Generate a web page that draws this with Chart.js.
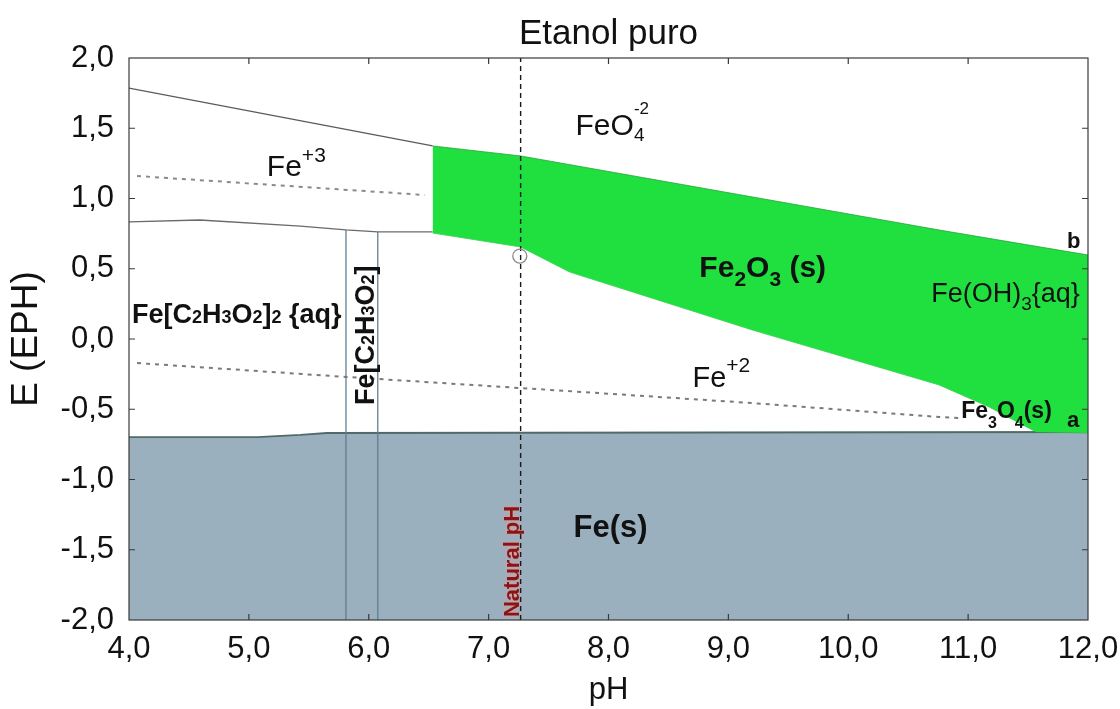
<!DOCTYPE html>
<html>
<head>
<meta charset="utf-8">
<title>Etanol puro</title>
<script src="https://cdn.jsdelivr.net/npm/chart.js@4/dist/chart.umd.min.js"></script>
<style>
  html, body { margin: 0; padding: 0; background: #fff; }
  #wrap { width: 1120px; height: 709px; }
</style>
</head>
<body>
<div id="wrap"><canvas id="pourbaix" width="1120" height="709"></canvas></div>
<script>
// Pourbaix diagram: Fe in pure ethanol (E vs pH)

// ------------------------------
// axis ticks
const pHTicks = [4, 5, 6, 7, 8, 9, 10, 11, 12];
const eTicks  = [-2, -1.5, -1, -0.5, 0, 0.5, 1, 1.5, 2];

// ------------------------------
// region boundaries, as (pH, E) pairs
const feSolidPH = [4.0, 5.07, 5.43, 5.65, 12.0];          // top of Fe(s) domain
const feSolidE  = [-0.698, -0.698, -0.683, -0.669, -0.662];

const hemTopPH = [6.533, 7.267, 10.758, 12.0];              // Fe2O3 upper edge
const hemTopE  = [1.374, 1.303, 0.776, 0.598];
const hemBotPH = [6.533, 7.267, 7.675, 9.2, 10.758, 11.175, 11.567, 12.0];
const hemBotE  = [0.754, 0.655, 0.477, 0.064, -0.327, -0.484, -0.662, -0.669];

const ferratePH = [4.0, 6.533];                              // Fe+3 / FeO4-2
const ferrateE  = [1.786, 1.374];

const fe3fe2PH = [4.0, 4.59, 5.43, 5.81, 6.075, 6.533];      // Fe+3 / Fe+2
const fe3fe2E  = [0.833, 0.847, 0.804, 0.776, 0.762, 0.762];

const acetatePH  = [5.81, 6.075];                            // acetate complex borders
const acetateTop = [0.776, 0.762];

const fe3DashPH = [4.067, 6.467];                            // dotted guide lines
const fe3DashE  = [1.160, 1.025];
const fe2DashPH = [4.067, 5.81, 7.267, 9.2, 10.758, 10.925];
const fe2DashE  = [-0.171, -0.270, -0.349, -0.456, -0.555, -0.562];

const naturalPH = 7.267;
const markerPH = [7.26];
const markerE  = [0.59];

// ------------------------------
const FONT = '"Liberation Sans", Arial, Helvetica, sans-serif';
const GREEN = 'rgb(32,224,64)';
const STEEL = 'rgb(155,176,191)';
const TITLE = 'Etanol puro';

const pts = (xs, ys) => xs.map((x, i) => ({ x, y: ys[i] }));
const fmt = v => Number(v).toFixed(1).replace('.', ',');

// text labels: anchor (pH, E) is the left end of the baseline
const labels = [
  { pH: 5.15,   E: 1.160,  parts: [{ t: 'Fe', s: 30 }, { t: '+3', s: 21, dy: -14 }] },
  { pH: 7.725,  E: 1.452,  parts: [{ t: 'FeO', s: 30 }, { t: '4', s: 19, dy: 6, stack: true }, { t: '-2', s: 17, dy: -21 }] },
  { pH: 8.758,  E: 0.441,  bold: true, parts: [{ t: 'Fe', s: 30 }, { t: '2', s: 21, dy: 9 }, { t: 'O', s: 30 }, { t: '3', s: 21, dy: 9 }, { t: ' (s)', s: 30 }] },
  { pH: 10.692, E: 0.263,  parts: [{ t: 'Fe(OH)', s: 27 }, { t: '3', s: 19, dy: 8 }, { t: '{aq}', s: 27 }] },
  { pH: 11.825, E: 0.648,  bold: true, parts: [{ t: 'b', s: 22 }] },
  { pH: 8.70,   E: -0.342, parts: [{ t: 'Fe', s: 29 }, { t: '+2', s: 21, dy: -15 }] },
  { pH: 10.942, E: -0.562, bold: true, parts: [{ t: 'Fe', s: 23 }, { t: '3', s: 16, dy: 10 }, { t: 'O', s: 23 }, { t: '4', s: 16, dy: 10 }, { t: '(s)', s: 23 }] },
  { pH: 11.825, E: -0.626, bold: true, parts: [{ t: 'a', s: 22 }] },
  { pH: 7.708,  E: -1.409, bold: true, parts: [{ t: 'Fe(s)', s: 31 }] },
  { pH: 4.025,  E: 0.114,  bold: true, parts: [{ t: 'Fe[C', s: 27 }, { t: '2', s: 18 }, { t: 'H', s: 27 }, { t: '3', s: 18 }, { t: 'O', s: 27 }, { t: '2', s: 18 }, { t: ']', s: 27 }, { t: '2', s: 18 }, { t: ' {aq}', s: 27 }] },
  { pH: 6.042,  E: -0.470, bold: true, rotate: true, parts: [{ t: 'Fe[C', s: 27 }, { t: '2', s: 18 }, { t: 'H', s: 27 }, { t: '3', s: 18 }, { t: 'O', s: 27 }, { t: '2', s: 18 }, { t: ']', s: 27 }] }
];
const naturalLabel = { pH: 7.25, E: -1.979, text: 'Natural pH', s: 22 };

function drawRich(ctx, x, y, parts, bold, color) {
  let cx = x;
  ctx.fillStyle = color;
  ctx.textBaseline = 'alphabetic';
  ctx.textAlign = 'left';
  parts.forEach(p => {
    ctx.font = `${bold ? 'bold ' : ''}${p.s}px ${FONT}`;
    ctx.fillText(p.t, cx, y + (p.dy || 0));
    if (!p.stack) cx += ctx.measureText(p.t).width;
  });
}

// title over the plot box, frame, inward ticks and region names
const decorations = {
  id: 'decorations',
  beforeDatasetDraw(chart, args) {
    if (args.meta.label !== 'natural') return;
    const { ctx } = chart;
    const px = chart.scales.x.getPixelForValue(naturalLabel.pH);
    const py = chart.scales.y.getPixelForValue(naturalLabel.E);
    ctx.save();
    ctx.translate(px, py);
    ctx.rotate(-Math.PI / 2);
    ctx.shadowColor = 'rgba(240,150,150,0.9)';
    ctx.shadowBlur = 4;
    ctx.font = `bold ${naturalLabel.s}px ${FONT}`;
    ctx.fillStyle = '#8a1414';
    ctx.textBaseline = 'alphabetic';
    ctx.fillText(naturalLabel.text, 0, 0);
    ctx.restore();
  },
  afterDatasetsDraw(chart) {
    const { ctx, chartArea: a } = chart;
    const xs = chart.scales.x, ys = chart.scales.y;
    ctx.save();

    ctx.font = `35px ${FONT}`;
    ctx.fillStyle = '#111';
    ctx.textAlign = 'center';
    ctx.textBaseline = 'middle';
    ctx.fillText(TITLE, (a.left + a.right) / 2, 34);

    labels.forEach(l => {
      const px = xs.getPixelForValue(l.pH), py = ys.getPixelForValue(l.E);
      if (l.rotate) {
        ctx.save();
        ctx.translate(px, py);
        ctx.rotate(-Math.PI / 2);
        drawRich(ctx, 0, 0, l.parts, l.bold, '#111');
        ctx.restore();
      } else {
        drawRich(ctx, px, py, l.parts, l.bold, '#111');
      }
    });

    ctx.strokeStyle = '#3a3a3a';
    ctx.lineWidth = 1.2;
    ctx.strokeRect(a.left, a.top, a.right - a.left, a.bottom - a.top);

    const tick = 6;
    ctx.beginPath();
    pHTicks.slice(1, -1).forEach(v => {
      const x = xs.getPixelForValue(v);
      ctx.moveTo(x, a.bottom); ctx.lineTo(x, a.bottom - tick);
      ctx.moveTo(x, a.top);    ctx.lineTo(x, a.top + tick);
    });
    eTicks.slice(1, -1).forEach(v => {
      const y = ys.getPixelForValue(v);
      ctx.moveTo(a.left, y);  ctx.lineTo(a.left + tick, y);
      ctx.moveTo(a.right, y); ctx.lineTo(a.right - tick, y);
    });
    ctx.stroke();
    ctx.restore();
  }
};

const chart = new Chart(document.getElementById('pourbaix'), {
  type: 'line',
  data: {
    datasets: [
      { label: 'marker', type: 'scatter', data: pts(markerPH, markerE), order: 0, showLine: false,
        pointRadius: 7, pointBorderColor: '#8a8a8a', pointBackgroundColor: 'rgba(0,0,0,0)', pointBorderWidth: 1.3 },
      { label: 'natural', data: [{ x: naturalPH, y: -2 }, { x: naturalPH, y: 2 }], order: 1,
        borderColor: '#1a1a1a', borderWidth: 1.4, borderDash: [5, 4] },
      { label: 'Fe+3 guide', data: pts(fe3DashPH, fe3DashE), order: 3,
        borderColor: '#8a8a8a', borderWidth: 2, borderDash: [4, 5] },
      { label: 'Fe+2 guide', data: pts(fe2DashPH, fe2DashE), order: 3,
        borderColor: '#7a7a7a', borderWidth: 2, borderDash: [4, 5] },
      { label: 'ferrate', data: pts(ferratePH, ferrateE), order: 4, borderColor: '#5a5a5a', borderWidth: 1.3 },
      { label: 'fe3fe2', data: pts(fe3fe2PH, fe3fe2E), order: 4, borderColor: '#6a6a6a', borderWidth: 1.3 },
      { label: 'acetate A', data: [{ x: acetatePH[0], y: acetateTop[0] }, { x: acetatePH[0], y: -2 }], order: 4,
        borderColor: 'rgba(95,125,145,0.85)', borderWidth: 1.5 },
      { label: 'acetate B', data: [{ x: acetatePH[1], y: acetateTop[1] }, { x: acetatePH[1], y: -2 }], order: 4,
        borderColor: 'rgba(95,125,145,0.85)', borderWidth: 1.5 },
      { label: 'Fe2O3 top', data: pts(hemTopPH, hemTopE), order: 8, fill: '+1',
        borderColor: 'rgba(25,150,45,0.7)', borderWidth: 1, backgroundColor: GREEN },
      { label: 'Fe2O3 bottom', data: pts(hemBotPH, hemBotE), order: 8,
        borderColor: 'rgba(25,170,50,0.6)', borderWidth: 1 },
      { label: 'Fe(s)', data: pts(feSolidPH, feSolidE), order: 10, fill: 'start',
        borderColor: '#4f6b68', borderWidth: 1.8, backgroundColor: STEEL }
    ]
  },
  options: {
    responsive: false,
    animation: false,
    events: [],
    devicePixelRatio: 1,
    layout: { padding: { left: 0, right: 32, top: 58, bottom: 0 } },
    elements: { point: { radius: 0 }, line: { tension: 0, fill: false } },
    plugins: {
      legend: { display: false },
      tooltip: { enabled: false },
      title: { display: false }
    },
    scales: {
      x: {
        type: 'linear', min: 4, max: 12,
        afterBuildTicks: s => { s.ticks = pHTicks.map(v => ({ value: v })); },
        afterFit: s => { s.height = 89; s.paddingLeft = 0; s.paddingRight = 0; },
        grid: { display: false, drawTicks: false },
        border: { display: false },
        ticks: { color: '#111', font: { family: FONT, size: 31 }, padding: 11, maxRotation: 0, autoSkip: false, callback: fmt },
        title: { display: true, text: 'pH', color: '#111', font: { family: FONT, size: 31 }, padding: { top: 0, bottom: 0 } }
      },
      y: {
        type: 'linear', min: -2, max: 2,
        afterBuildTicks: s => { s.ticks = eTicks.map(v => ({ value: v })); },
        afterFit: s => { s.width = 129; s.paddingTop = 0; s.paddingBottom = 0; },
        grid: { display: false, drawTicks: false },
        border: { display: false },
        ticks: { color: '#111', font: { family: FONT, size: 31 }, padding: 15, autoSkip: false, callback: fmt },
        title: { display: true, text: 'E (EPH)', color: '#111', font: { family: FONT, size: 37 }, padding: { top: 5, bottom: 0 } }
      }
    }
  },
  plugins: [decorations]
});
</script>
</body>
</html>
